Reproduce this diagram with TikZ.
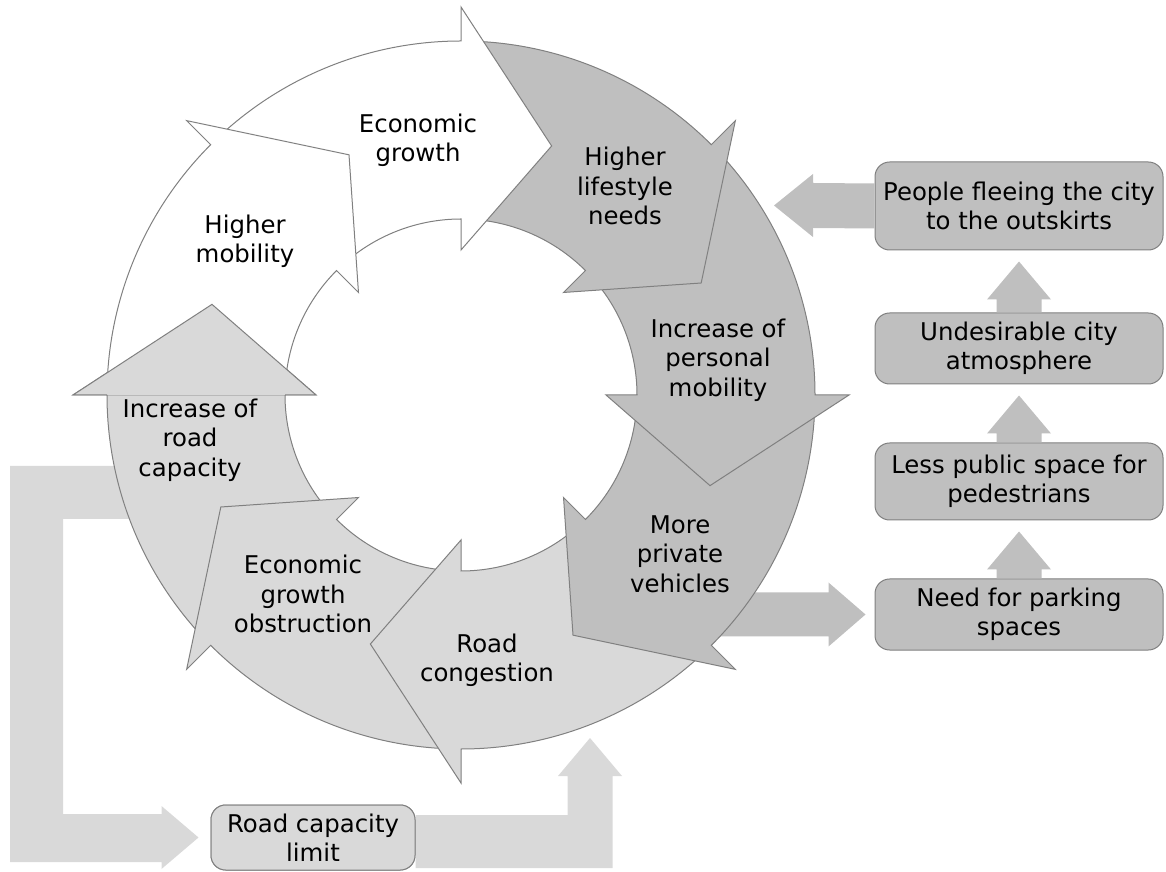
\documentclass[tikz,border=0pt]{standalone}
\usepackage{fontspec}
\setmainfont{DejaVu Sans}
\usetikzlibrary{calc}
\definecolor{dk}{HTML}{BFBFBF}
\definecolor{lt}{HTML}{D9D9D9}
\definecolor{ol}{HTML}{808080}
\newcommand{\ringarrow}[2]{%
  \filldraw[fill=#2, draw=ol, line width=0.75pt, line join=miter]
    ($(C)+(#1+45:354)$) arc[start angle=#1+45, end angle=#1, radius=354]
    -- ($(C)+(#1:388)$) -- ($(C)+(#1-20:265)$) -- ($(C)+(#1:145)$) -- ($(C)+(#1:176)$)
    arc[start angle=#1, end angle=#1+45, radius=176] -- cycle;}
\begin{document}
\begin{tikzpicture}[x=0.75pt,y=0.75pt,
  txt/.style={font=\fontsize{18.3}{22}\selectfont},
  lbl/.style={txt, align=center, inner sep=0pt},
  box/.style={txt, align=center, inner sep=0pt, draw=ol, line width=0.75pt,
    rounded corners=11pt, minimum width=216pt},
  blk/.style={fill=dk, draw=none},
  blkl/.style={fill=lt, draw=none}]
\useasboundingbox (0,0) rectangle (1166,871);
\coordinate (C) at (461,476);

% right-hand boxes
\node[box, fill=dk, minimum height=66pt] (pf) at (1019,665) {People fleeing the city\\to the outskirts};
\node[box, fill=dk, minimum height=53.25pt] (ud) at (1019,522.5) {Undesirable city\\atmosphere};
\node[box, fill=dk, minimum height=57.75pt] (lp) at (1019,389.5) {Less public space for\\pedestrians};
\node[box, fill=dk, minimum height=53.25pt] (np) at (1019,256.5) {Need for parking\\spaces};

% up arrows between boxes
\foreach \lo/\up in {ud/pf, lp/ud, np/lp}{
  \fill[blk] ($(\lo.north)+(-22.5,0)$) -- ($(\up.south)+(-22.5,-49)$) -- ($(\up.south)+(-32,-49)$)
    -- ($(\up.south)+(0,-11)$) -- ($(\up.south)+(32,-49)$) -- ($(\up.south)+(22.5,-49)$)
    -- ($(\lo.north)+(22.5,0)$) -- cycle;
}
% arrow from people fleeing to the ring
\coordinate (ringR) at (774,665.5);
\fill[blk] ($(pf.west)+(0,22.5)$) -- ($(ringR)+(39,22.5)$) -- ($(ringR)+(39,31.5)$) -- (ringR)
  -- ($(ringR)+(39,-31.5)$) -- ($(ringR)+(39,-22.5)$) -- ($(pf.west)+(0,-22.5)$) -- cycle;
% arrow from the ring to need for parking
\coordinate (ringP) at (700,256.5);
\fill[blk] ($(ringP)+(0,22)$) -- ($(np.west)+(-46,22)$) -- ($(np.west)+(-46,32)$) -- ($(np.west)+(-9,0)$)
  -- ($(np.west)+(-46,-32)$) -- ($(np.west)+(-46,-22)$) -- ($(ringP)+(0,-22)$) -- cycle;

% bottom box
\node[box, fill=lt, minimum width=153pt, minimum height=48.75pt] (rc) at (313,33.5) {Road capacity\\limit};
\coordinate (ringL) at (140,378.5);
\coordinate (ringB) at (590,133);
% left L arrow
\fill[blkl] ($(ringL)+(0,26.5)$) -- (10,405) -- (10,9) -- ($(rc.west)+(-49,-24.5)$) -- ($(rc.west)+(-49,-31.5)$)
  -- ($(rc.west)+(-12,0)$) -- ($(rc.west)+(-49,31.5)$) -- ($(rc.west)+(-49,23.5)$) -- (63,57) -- (63,352)
  -- ($(ringL)+(0,-26.5)$) -- cycle;
% right L arrow
\fill[blkl] ($(rc.east)+(0,22.5)$) -- ($(ringB)+(-22.5,-77)$) -- ($(ringB)+(-22.5,-38)$) -- ($(ringB)+(-32,-38)$)
  -- (ringB) -- ($(ringB)+(32,-38)$) -- ($(ringB)+(22.5,-38)$) -- ($(ringB)+(22.5,-130)$)
  -- ($(rc.east)+(0,-30.5)$) -- cycle;
% redraw box on top
\node[box, fill=lt, minimum width=153pt, minimum height=48.75pt] at (rc) {Road capacity\\limit};

% the ring
\ringarrow{-180}{lt}
\ringarrow{-135}{lt}
\ringarrow{-90}{lt}
\ringarrow{-45}{dk}
\ringarrow{0}{dk}
\ringarrow{45}{dk}
\ringarrow{90}{white}
\ringarrow{135}{white}
\fill[lt] ($(C)+(180:354)$) -- ($(C)+(180:388)$) -- ($(C)+(160:265)$) -- ($(C)+(180:145)$) -- ($(C)+(180:176)$) -- cycle;
\draw[ol, line width=0.75pt, line join=miter] ($(C)+(180:354)$) -- ($(C)+(180:388)$) -- ($(C)+(160:265)$) -- ($(C)+(180:145)$) -- ($(C)+(180:176)$);

% labels
\node[lbl] (l1) at (418,731) {Economic\\growth};
\node[lbl] (l2) at (625,685) {Higher\\lifestyle\\needs};
\node[lbl] (l3) at (245,630) {Higher\\mobility};
\node[lbl] (l4) at (718,511) {Increase of\\personal\\mobility};
\node[lbl] (l5) at (680,317) {More\\private\\vehicles};
\node[lbl] (l6) at (487,211) {Road\\congestion};
\node[lbl] (l7) at (303,277) {Economic\\growth\\obstruction};
\node[lbl] (l8) at (190,431) {Increase of\\road\\capacity};
\end{tikzpicture}
\end{document}
